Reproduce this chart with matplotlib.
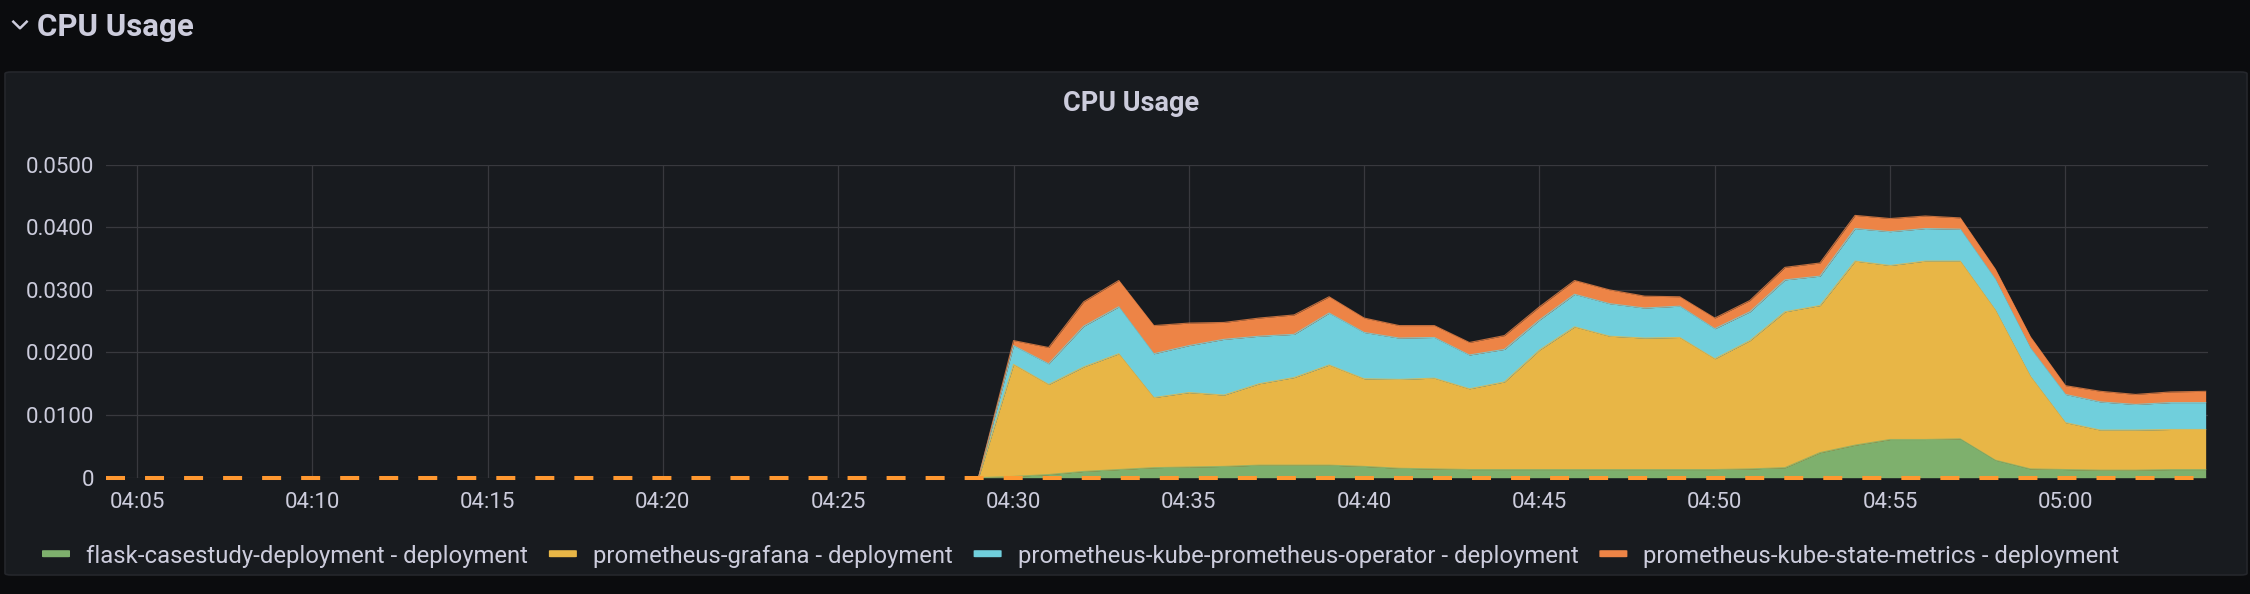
"""
Grafana-style stacked CPU usage panel (dark theme)
"""
import numpy as np
import pandas as pd
import matplotlib
matplotlib.use('Agg')
import matplotlib.pyplot as plt
import matplotlib.dates as mdates
import matplotlib.transforms as mtransforms
from matplotlib.patches import FancyBboxPatch
from matplotlib.lines import Line2D

### Data (one point per minute)
times = pd.date_range('2023-03-01 04:29', '2023-03-01 05:04', freq='1min')

flask = [0, .0002, .0005, .0010, .0013, .0016, .0017, .0018, .0020, .0020,
         .0020, .0018, .0015, .0014, .0013, .0013, .0013, .0013, .0013, .0013,
         .0013, .0013, .0014, .0016, .0040, .0052, .0061, .0061, .0062, .0028,
         .0014, .0013, .0012, .0012, .0013, .0013]
grafana = [0, .0179, .0144, .0167, .0185, .0112, .0119, .0114, .0130, .0140,
           .0160, .0140, .0142, .0145, .0129, .0140, .0191, .0228, .0213, .0210,
           .0211, .0177, .0205, .0249, .0235, .0294, .0278, .0285, .0284, .0240,
           .0148, .0075, .0064, .0064, .0064, .0064]
operator = [0, .0030, .0033, .0065, .0075, .0070, .0075, .0089, .0076, .0069,
            .0083, .0074, .0066, .0065, .0054, .0052, .0048, .0052, .0052, .0048,
            .0050, .0048, .0046, .0051, .0047, .0052, .0054, .0052, .0051, .0049,
            .0045, .0045, .0045, .0041, .0043, .0043]
state_metrics = [0, .0008, .0026, .0039, .0042, .0045, .0036, .0027, .0029, .0031,
                 .0026, .0023, .0020, .0019, .0020, .0022, .0021, .0022, .0022, .0019,
                 .0015, .0017, .0018, .0020, .0021, .0021, .0021, .0020, .0018, .0016,
                 .0018, .0014, .0017, .0016, .0017, .0018]

names = ['flask-casestudy-deployment - deployment',
         'prometheus-grafana - deployment',
         'prometheus-kube-prometheus-operator - deployment',
         'prometheus-kube-state-metrics - deployment']
colors = ['#7EB06D', '#E8B646', '#70CFDC', '#ED8446']

t_start = pd.Timestamp('2023-03-01 04:04:07')
t_end = pd.Timestamp('2023-03-01 05:04:04')
idle_times = [t_start, times[-1]]
idle = [0, 0]

yticks = [0, 0.01, 0.02, 0.03, 0.04, 0.05]
ytick_labels = ['0', '0.0100', '0.0200', '0.0300', '0.0400', '0.0500']

txtc = '#ccccdc'
W, H = 2250, 594


def main():
    plt.rcParams['font.family'] = ['Roboto', 'DejaVu Sans']

    fig = plt.figure(figsize=(W/100, H/100), dpi=100)
    fig.patch.set_facecolor('#0b0c0e')

    ### Panel box (behind the axes)
    panel = FancyBboxPatch((5/W, 1-575/H), (2247-5)/W, (575-72)/H,
                           boxstyle='round,pad=0,rounding_size=0.003',
                           transform=fig.transFigure, facecolor='#181b1f',
                           edgecolor='#25272c', lw=1.2, zorder=-5)
    fig.patches.append(panel)

    ### Row header with chevron
    fig.lines.append(Line2D(np.array([13.3, 20, 26.7])/W, 1-np.array([21.7, 28.3, 21.7])/H,
                            transform=fig.transFigure, color=txtc, lw=1.8))
    fig.text(37/W, 1-36/H, 'CPU Usage', fontsize=22.5, fontweight='semibold',
             color=txtc, ha='left', va='baseline')

    ### Panel title
    fig.text(1131/W, 1-111/H, 'CPU Usage', fontsize=19.5, fontweight='semibold',
             color=txtc, ha='center', va='baseline')

    ### Graph area
    left, right = 106/W, 2208/W
    bottom, top = 1-477.7/H, 1-164.7/H
    ax = fig.add_axes([left, bottom, right-left, top-bottom])
    ax.patch.set_visible(False)

    tnum = mdates.date2num(times.to_pydatetime())
    base = np.zeros(len(times))
    for vals, c in zip([flask, grafana, operator, state_metrics], colors):
        topv = base + np.asarray(vals)
        ax.fill_between(tnum, base, topv, color=c, lw=0, zorder=2)
        ax.plot(tnum, topv, color=c, lw=0.8, alpha=0.8, zorder=3)
        base = topv

    ln, = ax.plot(mdates.date2num(pd.DatetimeIndex(idle_times).to_pydatetime()), idle,
                  color='#FF9830', lw=2.9, dashes=(4.72, 4.97), zorder=5)
    ln.set_clip_box(mtransforms.TransformedBbox(
        mtransforms.Bbox([[0, -0.05], [1, 1]]), ax.transAxes))

    ax.set_xlim(mdates.date2num(t_start.to_pydatetime()), mdates.date2num(t_end.to_pydatetime()))
    ax.set_ylim(0, 0.05)
    ax.set_yticks(yticks)
    ax.set_yticklabels(ytick_labels)
    ax.xaxis.set_major_locator(mdates.MinuteLocator(byminute=range(0, 60, 5)))
    ax.xaxis.set_major_formatter(mdates.DateFormatter('%H:%M'))

    ax.grid(True, color='#38393e', lw=0.9, zorder=1)
    ax.set_axisbelow(True)
    for sp in ax.spines.values():
        sp.set_visible(False)
    ax.tick_params(axis='both', length=0, labelsize=16, colors=txtc)
    ax.tick_params(axis='y', pad=8.6)
    ax.tick_params(axis='x', pad=10)

    ### Legend, laid out by hand
    fig.canvas.draw()
    rend = fig.canvas.get_renderer()
    x = 42
    yc = 553.7
    for name, c in zip(names, colors):
        sw = FancyBboxPatch((x/W, 1-(yc+3.5)/H), 28/W, 7/H,
                            boxstyle='round,pad=0,rounding_size=0.0008',
                            transform=fig.transFigure, facecolor=c, edgecolor='none')
        fig.patches.append(sw)
        t = fig.text((x+44)/W, 1-yc/H, name, fontsize=17.2, color=txtc,
                     ha='left', va='center_baseline')
        wpx = t.get_window_extent(rend).width
        x = x + 44 + wpx + 21

    fig.savefig('out.png', dpi=100, facecolor=fig.get_facecolor())
    return


if __name__ == '__main__':
    main()
